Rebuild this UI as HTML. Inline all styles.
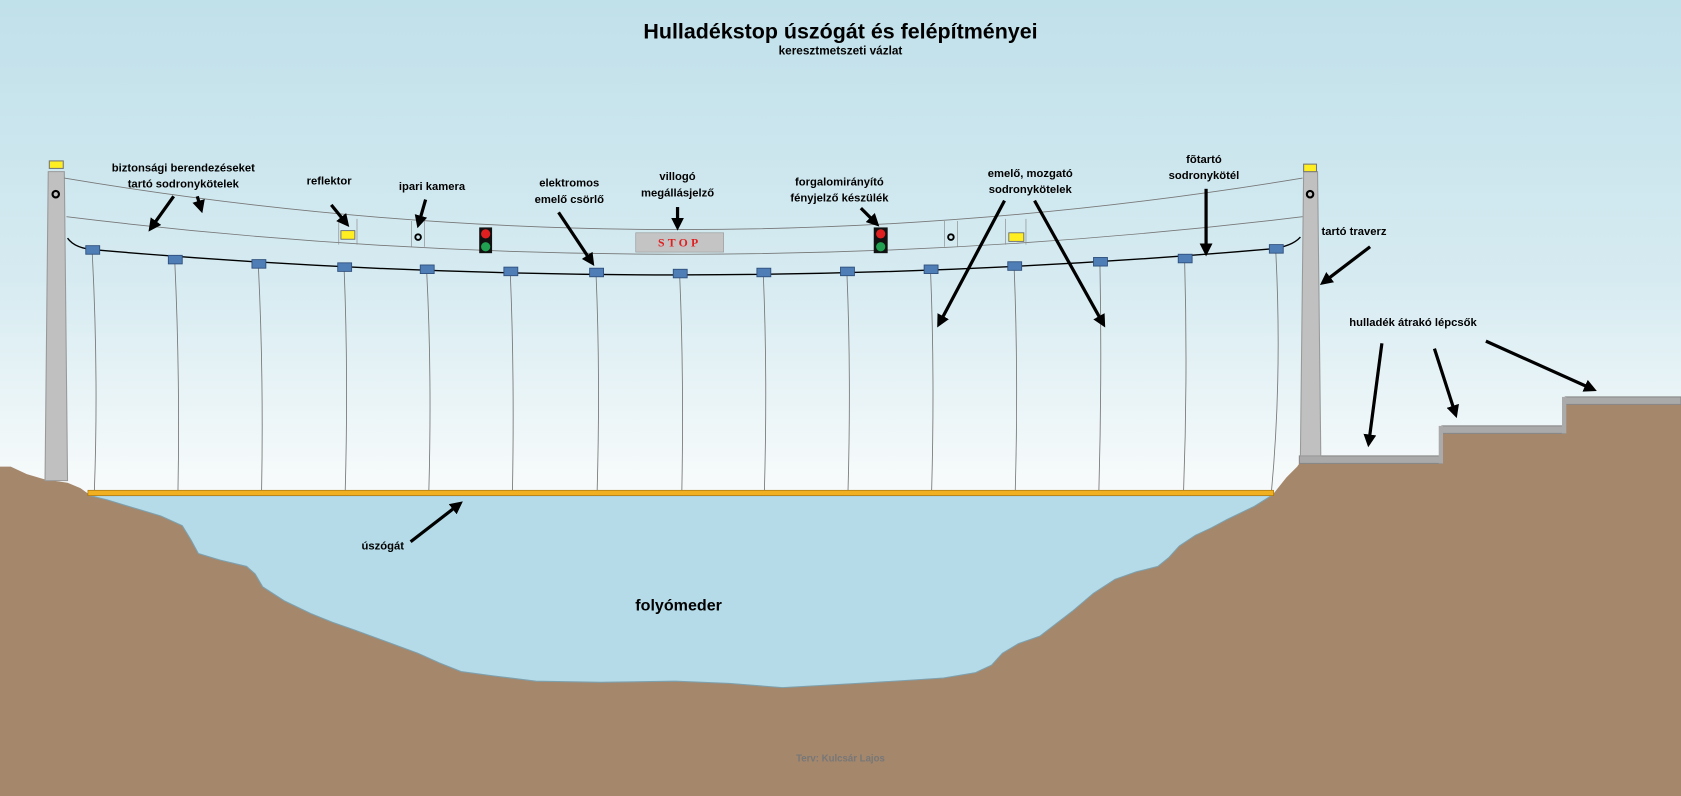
<!DOCTYPE html>
<html><head><meta charset="utf-8"><style>
html,body{margin:0;padding:0;width:1681px;height:796px;overflow:hidden}
svg{display:block}
text{font-family:"Liberation Sans",sans-serif;font-weight:bold;text-anchor:middle}
</style></head><body>
<svg width="1681" height="796" viewBox="0 0 1568 742" preserveAspectRatio="none">
<defs>
<linearGradient id="sky" x1="0" y1="0" x2="0" y2="1">
<stop offset="0" stop-color="#c0e0ea"/><stop offset="0.35" stop-color="#d6ebf1"/><stop offset="0.6" stop-color="#f6fafb"/><stop offset="1" stop-color="#ffffff"/></linearGradient>
<marker id="ah" markerWidth="4" markerHeight="4" refX="2" refY="2" orient="auto" markerUnits="strokeWidth"><path d="M0,0 L4,2 L0,4 Z" fill="#000"/></marker>
</defs>
<rect width="1568" height="742" fill="url(#sky)"/>
<!-- ground -->
<path d="M0,435 L10,435 L25,442 L42,447 L63,450 L75,455 L82,460 L1188,460 L1200,445 L1210,435 L1212,432 L1345,432 L1345,404 L1460,404 L1460,377 L1568,377 L1568,742 L0,742 Z" fill="#a5876c"/>
<!-- water -->
<path d="M84,462 L1186,462 L1170,472 L1145,484 L1130,492 L1115,499 L1100,509 L1090,520 L1080,528 L1060,533 L1040,540 L1020,553 L1000,570 L970,593 L950,600 L935,609 L925,620 L910,627 L880,632 L850,634 L800,637 L730,641 L680,637 L630,635 L560,636 L500,635 L460,630 L430,626 L410,618 L390,609 L360,598 L330,587 L310,580 L290,572 L265,560 L245,547 L238,535 L230,528 L205,522 L185,516 L178,503 L170,490 L150,481 L120,472 L100,466 Z" fill="#b4dbe7" stroke="#7ea0ad" stroke-width="1"/>
<!-- steps -->
<rect x="1212" y="425" width="133" height="7" fill="#aaa" stroke="#888" stroke-width="1"/>
<rect x="1345" y="397" width="115" height="7" fill="#aaa" stroke="#888" stroke-width="1"/>
<rect x="1460" y="370" width="108" height="7" fill="#aaa" stroke="#888" stroke-width="1"/>
<rect x="1342" y="397" width="4" height="35" fill="#aaa"/>
<rect x="1457" y="370" width="4" height="34" fill="#aaa"/>
<!-- poles -->
<path d="M45,160 L60,160 L63,448 L42,448 Z" fill="#c0c0c0" stroke="#999" stroke-width="1"/>
<path d="M1216,160 L1229,160 L1232,425 L1213,425 Z" fill="#c0c0c0" stroke="#999" stroke-width="1"/>
<rect x="46" y="150" width="13" height="7" fill="#ffee22" stroke="#777"/>
<rect x="1216" y="153" width="12" height="7" fill="#ffee22" stroke="#777"/>
<circle cx="52" cy="181" r="3" fill="none" stroke="#000" stroke-width="2"/>
<circle cx="1222" cy="181" r="3" fill="none" stroke="#000" stroke-width="2"/>
<!-- thin cables -->
<path d="M60,166 Q633,262 1215,166" fill="none" stroke="#777" stroke-width="0.8"/>
<path d="M62,202 Q633,272 1215,202" fill="none" stroke="#777" stroke-width="0.8"/>
<!-- main cable -->
<path d="M63,222 Q70,232 90,233 Q633,280 1185,232 Q1205,230 1213,221" fill="none" stroke="#000" stroke-width="1.3"/>
<!-- hanging ropes -->
<g stroke="#777" stroke-width="0.8" fill="none">
<path d="M86,235 Q92,350 88,458"/><path d="M163,243 Q168,350 166,458"/><path d="M241,248 Q246,350 244,458"/><path d="M321,251 Q325,350 322,458"/><path d="M398,253 Q403,350 400,458"/><path d="M476,255 Q480,350 478,458"/><path d="M556,256 Q560,350 557,458"/><path d="M634,257 Q638,350 636,458"/><path d="M712,256 Q716,350 713,458"/><path d="M790,255 Q794,350 791,458"/><path d="M868,253 Q872,350 869,458"/><path d="M946,250 Q950,350 947,458"/><path d="M1026,246 Q1028,350 1025,458"/><path d="M1105,243 Q1108,350 1104,458"/><path d="M1190,234 Q1196,350 1186,458"/>
</g>
<!-- boxes -->
<g fill="#4f7db5" stroke="#2d4d7a" stroke-width="0.8">
<rect x="80" y="229" width="13" height="8"/><rect x="157" y="238" width="13" height="8"/><rect x="235" y="242" width="13" height="8"/><rect x="315" y="245" width="13" height="8"/><rect x="392" y="247" width="13" height="8"/><rect x="470" y="249" width="13" height="8"/><rect x="550" y="250" width="13" height="8"/><rect x="628" y="251" width="13" height="8"/><rect x="706" y="250" width="13" height="8"/><rect x="784" y="249" width="13" height="8"/><rect x="862" y="247" width="13" height="8"/><rect x="940" y="244" width="13" height="8"/><rect x="1020" y="240" width="13" height="8"/><rect x="1099" y="237" width="13" height="8"/><rect x="1184" y="228" width="13" height="8"/>
</g>
<!-- float bar -->
<rect x="82" y="457" width="1106" height="5" fill="#f0b020" stroke="#a07010" stroke-width="0.6"/>
<!-- devices -->
<g stroke="#888" stroke-width="0.6"><line x1="316" y1="204" x2="316" y2="228"/><line x1="333" y1="204" x2="333" y2="228"/><line x1="384" y1="206" x2="384" y2="230"/><line x1="396" y1="206" x2="396" y2="230"/><line x1="881" y1="206" x2="881" y2="230"/><line x1="893" y1="206" x2="893" y2="230"/><line x1="938" y1="204" x2="938" y2="228"/><line x1="957" y1="204" x2="957" y2="228"/></g>
<rect x="318" y="215" width="13" height="8" fill="#ffee22" stroke="#666" stroke-width="0.8"/>
<rect x="941" y="217" width="14" height="8" fill="#ffee22" stroke="#666" stroke-width="0.8"/>
<circle cx="390" cy="221" r="2.6" fill="none" stroke="#000" stroke-width="1.8"/>
<circle cx="887" cy="221" r="2.6" fill="none" stroke="#000" stroke-width="1.8"/>
<rect x="447" y="212" width="12" height="24" fill="#111"/><circle cx="453" cy="218" r="4.3" fill="#e02020"/><circle cx="453" cy="230" r="4.3" fill="#20a050"/>
<rect x="815" y="212" width="13" height="24" fill="#111"/><circle cx="821.5" cy="218" r="4.3" fill="#e02020"/><circle cx="821.5" cy="230" r="4.3" fill="#20a050"/>
<rect x="593" y="217" width="82" height="18" fill="#c4c4c4" stroke="#999" stroke-width="0.6"/>
<text x="634" y="230" style="font-family:'Liberation Serif',serif;font-size:11px;fill:#e02020;letter-spacing:3px">STOP</text>
<!-- titles -->
<text x="784" y="36" style="font-size:20px">Hulladékstop úszógát és felépítményei</text>
<text x="784" y="51" style="font-size:11px">keresztmetszeti vázlat</text>
<g style="font-size:10.5px">
<text x="171" y="160">biztonsági berendezéseket</text><text x="171" y="175">tartó sodronykötelek</text>
<text x="307" y="172">reflektor</text>
<text x="403" y="177">ipari kamera</text>
<text x="531" y="174">elektromos</text><text x="531" y="189">emelő csörlő</text>
<text x="632" y="168">villogó</text><text x="632" y="183">megállásjelző</text>
<text x="783" y="173">forgalomirányító</text><text x="783" y="188">fényjelző készülék</text>
<text x="961" y="165">emelő, mozgató</text><text x="961" y="180">sodronykötelek</text>
<text x="1123" y="152">fõtartó</text><text x="1123" y="167">sodronykötél</text>
<text x="1263" y="219">tartó traverz</text>
<text x="1318" y="304">hulladék átrakó lépcsők</text>
<text x="357" y="512">úszógát</text>
</g>
<text x="633" y="569" style="font-size:15px">folyómeder</text>
<text x="784" y="710" style="font-size:9px;fill:#777">Terv: Kulcsár Lajos</text>
<!-- arrows -->
<g stroke="#000" stroke-width="3" marker-end="url(#ah)" fill="none">
<line x1="162" y1="183" x2="142" y2="211"/>
<line x1="184" y1="183" x2="187" y2="193"/>
<line x1="309" y1="191" x2="322" y2="207"/>
<line x1="397" y1="186" x2="391" y2="207"/>
<line x1="521" y1="198" x2="551" y2="243"/>
<line x1="632" y1="193" x2="632" y2="209"/>
<line x1="803" y1="194" x2="816" y2="207"/>
<line x1="937" y1="187" x2="877" y2="300"/>
<line x1="965" y1="187" x2="1028" y2="300"/>
<line x1="1125" y1="176" x2="1125" y2="233"/>
<line x1="1278" y1="230" x2="1236" y2="262"/>
<line x1="1289" y1="320" x2="1277" y2="411"/>
<line x1="1338" y1="325" x2="1357" y2="384"/>
<line x1="1386" y1="318" x2="1484" y2="362"/>
<line x1="383" y1="505" x2="427" y2="471"/>
</g>
</svg>
</body></html>
